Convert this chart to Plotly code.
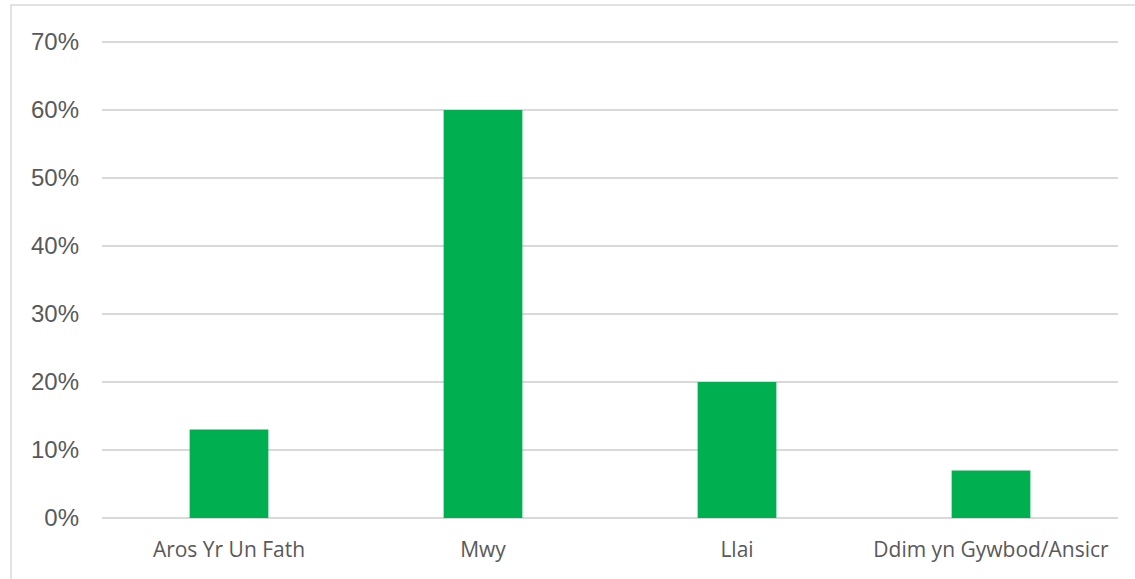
import plotly.graph_objects as go

categories = ["Aros Yr Un Fath", "Mwy", "Llai", "Ddim yn Gywbod/Ansicr"]
values = [13, 60, 20, 7]
y_ticks = [0, 10, 20, 30, 40, 50, 60, 70]
y_tick_labels = [f"{v}%" for v in y_ticks]

fig = go.Figure()
fig.add_trace(go.Bar(x=categories, y=values, marker=dict(color="#00b050", line=dict(width=0)),
                     width=0.31, hoverinfo="x+y"))

fig.update_layout(
    width=1135, height=579,
    margin=dict(l=102, r=17, t=41, b=61),
    paper_bgcolor="white", plot_bgcolor="white",
    showlegend=False,
    xaxis=dict(showgrid=False, showline=False, zeroline=False,
               tickfont=dict(family="Open Sans", size=21, color="#595959"),
               ticklabelstandoff=17),
    yaxis=dict(range=[0, 70.15], tickvals=y_ticks, ticktext=y_tick_labels,
               showgrid=True, gridcolor="#d9d9d9", gridwidth=1.5,
               zeroline=True, zerolinecolor="#d9d9d9", zerolinewidth=1.5,
               showline=False,
               tickfont=dict(family="Liberation Sans", size=24, color="#595959"),
               ticklabelstandoff=22),
    shapes=[dict(type="rect", xref="paper", yref="paper",
                 x0=-0.0896, x1=1.2, y0=-0.4, y1=1.0756,
                 line=dict(color="#d9d9d9", width=1.5), fillcolor="rgba(0,0,0,0)",
                 layer="below")],
)

fig.write_html("out.html", config={"displayModeBar": False},
               post_script="document.body.style.margin='0';")
